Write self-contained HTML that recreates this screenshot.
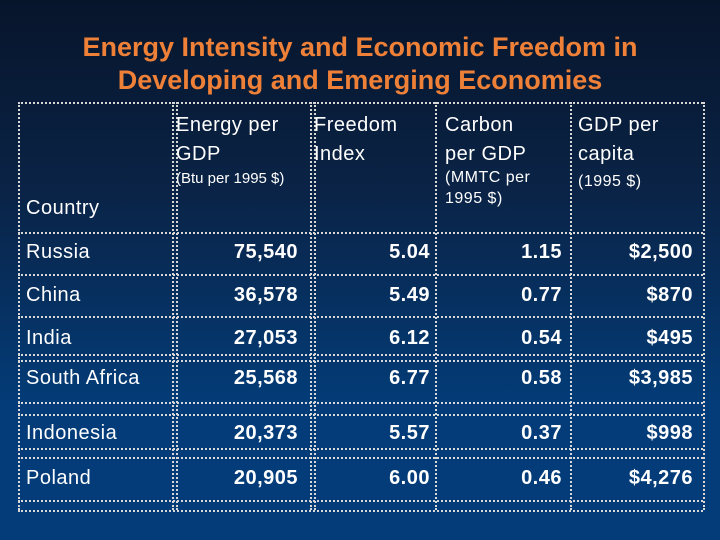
<!DOCTYPE html>
<html><head><meta charset="utf-8"><style>
body{margin:0;width:720px;height:540px;overflow:hidden;font-family:"Liberation Sans",sans-serif;
background:linear-gradient(#07152b 0%,#0a2346 35%,#033c78 75%,#033c78 100%);position:relative;color:#fff}
.t{position:absolute;left:0;width:720px;text-align:center;color:#ee8038;font-weight:bold;font-size:27px;line-height:30px}
.h{position:absolute;border-top:2px dotted #d8d8d8;height:0}
.v{position:absolute;border-left:2px dotted #d8d8d8;width:0}
.c{position:absolute;font-size:20px;white-space:nowrap;line-height:20px;letter-spacing:0.5px}
.b{font-weight:bold}
.r{text-align:right}
</style></head><body>
<div class="t" style="top:32px">Energy Intensity and Economic Freedom in</div>
<div class="t" style="top:65px">Developing and Emerging Economies</div>
<div id="tbl"></div>
<script>
const countries=["Russia","China","India","South Africa","Indonesia","Poland"];
const energy=["75,540","36,578","27,053","25,568","20,373","20,905"];
const freedom=["5.04","5.49","6.12","6.77","5.57","6.00"];
const carbon=["1.15","0.77","0.54","0.58","0.37","0.46"];
const gdp=["$2,500","$870","$495","$3,985","$998","$4,276"];
const tbl=document.getElementById('tbl');
function add(cls,style,text,name){const d=document.createElement('div');d.className=cls;d.style.cssText=style;if(text!==undefined)d.innerHTML=text;


tbl.appendChild(d);return d;}
[102,232,274,316,354,360,402,414,448,457,500,510].forEach((y,i)=>add('h',`left:18px;width:685px;top:${y}px`,undefined,'grid-row-line'));
[18,172,176,310,314,435,570,703].forEach(x=>add('v',`left:${x}px;top:102px;height:408px`,undefined,'grid-col-line'));
add('c','left:176px;top:111px;line-height:29px','Energy per<br>GDP','header-energy');
add('c','left:176px;top:169px;font-size:15px;letter-spacing:0','(Btu per 1995 $)','header-energy-unit');
add('c','left:314px;top:111px;line-height:29px','Freedom<br>Index','header-freedom');
add('c','left:445px;top:111px;line-height:29px','Carbon<br>per GDP','header-carbon');
add('c','left:445px;top:167px;font-size:16px;line-height:21px','(MMTC per<br>1995 $)','header-carbon-unit');
add('c','left:578px;top:111px;line-height:29px','GDP per<br>capita','header-gdp');
add('c','left:578px;top:172px;font-size:16px','(1995 $)','header-gdp-unit');
add('c','left:26px;top:198px','Country','header-country');
const ys=[242,285,328,368,423,468];
countries.forEach((c,i)=>{
 const y=ys[i];
 add('c',`left:26px;top:${y}px`,c,'country-'+i);
 add('c b r',`left:176px;width:122px;top:${y}px`,energy[i],'energy-'+i);
 add('c b r',`left:314px;width:116px;top:${y}px`,freedom[i],'freedom-'+i);
 add('c b r',`left:435px;width:127px;top:${y}px`,carbon[i],'carbon-'+i);
 add('c b r',`left:570px;width:123px;top:${y}px`,gdp[i],'gdp-'+i);
});
</script>
</body></html>
